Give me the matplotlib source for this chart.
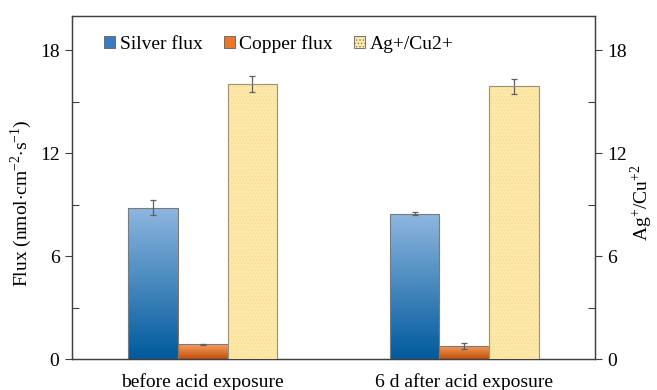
import numpy as np
import matplotlib.pyplot as plt
from matplotlib.colors import LinearSegmentedColormap
from matplotlib.patches import Patch

plt.rcParams['font.family'] = ['Liberation Serif', 'DejaVu Serif']
plt.rcParams['mathtext.fontset'] = 'custom'
plt.rcParams['mathtext.rm'] = 'Liberation Serif'
plt.rcParams['hatch.linewidth'] = 0.4

groups = ['before acid exposure', '6 d after acid exposure']
silver = [8.83, 8.48]
silver_err = [0.45, 0.10]
copper = [0.86, 0.78]
copper_err = [0.03, 0.17]
ratio = [16.03, 15.89]
ratio_err = [0.45, 0.43]

fig = plt.figure(figsize=(6.57, 3.9), dpi=100)
ax = fig.add_axes([72/657, 31/390, 523/657, 343/390])
x = np.arange(len(groups))
w = 0.19

blue_cmap = LinearSegmentedColormap.from_list('b', ['#005a9c', '#8fb7e0'])
orange_cmap = LinearSegmentedColormap.from_list('o', ['#c0500a', '#f9a060'])


def gradient_bars(bars, cmap):
    grad = np.linspace(0, 1, 256).reshape(-1, 1)
    for b in bars:
        bx, by = b.get_x(), b.get_y()
        bw, bh = b.get_width(), b.get_height()
        im = ax.imshow(grad, cmap=cmap, origin='lower', aspect='auto',
                       extent=[bx, bx + bw, by, by + bh], zorder=2)
        im.set_clip_path(b)


ekw = dict(ecolor='#606060', elinewidth=0.9, capsize=2.5, capthick=0.9)
b1 = ax.bar(x - w, silver, w, yerr=silver_err, color='none', edgecolor='#7a7a7a',
            linewidth=0.8, zorder=3, error_kw=ekw)
b2 = ax.bar(x, copper, w, yerr=copper_err, color='none', edgecolor='#7a7a7a',
            linewidth=0.8, zorder=3, error_kw=ekw)
gradient_bars(b1, blue_cmap)
gradient_bars(b2, orange_cmap)

ax2 = ax.twinx()
b3 = ax2.bar(x + w, ratio, w, yerr=ratio_err, color='#fde8a8', edgecolor='#f5d890',
             hatch='.....', linewidth=0.8, zorder=3, error_kw=ekw)
ax2.bar(x + w, ratio, w, color='none', edgecolor='#9a9080', linewidth=0.8, zorder=4)

for a in (ax, ax2):
    a.set_ylim(0, 20)
    a.set_yticks([0, 6, 12, 18])
    a.set_yticks([3, 9, 15], minor=True)
    a.tick_params(axis='y', which='major', direction='out', length=5, width=0.8,
                  colors='#404040', labelcolor='black', labelsize=14, pad=4)
    a.tick_params(axis='y', which='minor', direction='in', length=5, width=0.8,
                  colors='#404040')
    for s in a.spines.values():
        s.set_color('#404040')
        s.set_linewidth(0.9)

ax.set_xlim(-0.5, 1.5)
ax.set_xticks(x)
ax.set_xticklabels(groups, fontsize=14)
ax.tick_params(axis='x', length=0, pad=10)

ax.set_ylabel('Flux (nmol$\\cdot$cm$^{-2}$$\\cdot$s$^{-1}$)', fontsize=14)
ax.yaxis.set_label_coords(-0.073, 0.455)
ax2.set_ylabel('Ag$^{+}$/Cu$^{+2}$', fontsize=14)
ax2.yaxis.set_label_coords(1.064, 0.455)

handles = [Patch(facecolor='#3a7cc0', edgecolor='#606060', linewidth=0.6),
           Patch(facecolor='#e8782a', edgecolor='#606060', linewidth=0.6),
           Patch(facecolor='#fde8a8', edgecolor='#606060', linewidth=0.6, hatch='.....')]
ax2.legend(handles, ['Silver flux', 'Copper flux', 'Ag+/Cu2+'], ncol=3, frameon=False,
           loc='upper left', bbox_to_anchor=(0.028, 0.995), fontsize=14,
           handlelength=0.55, handleheight=0.55, handletextpad=0.25, columnspacing=1.1)

fig.savefig('out.png', dpi=100)
